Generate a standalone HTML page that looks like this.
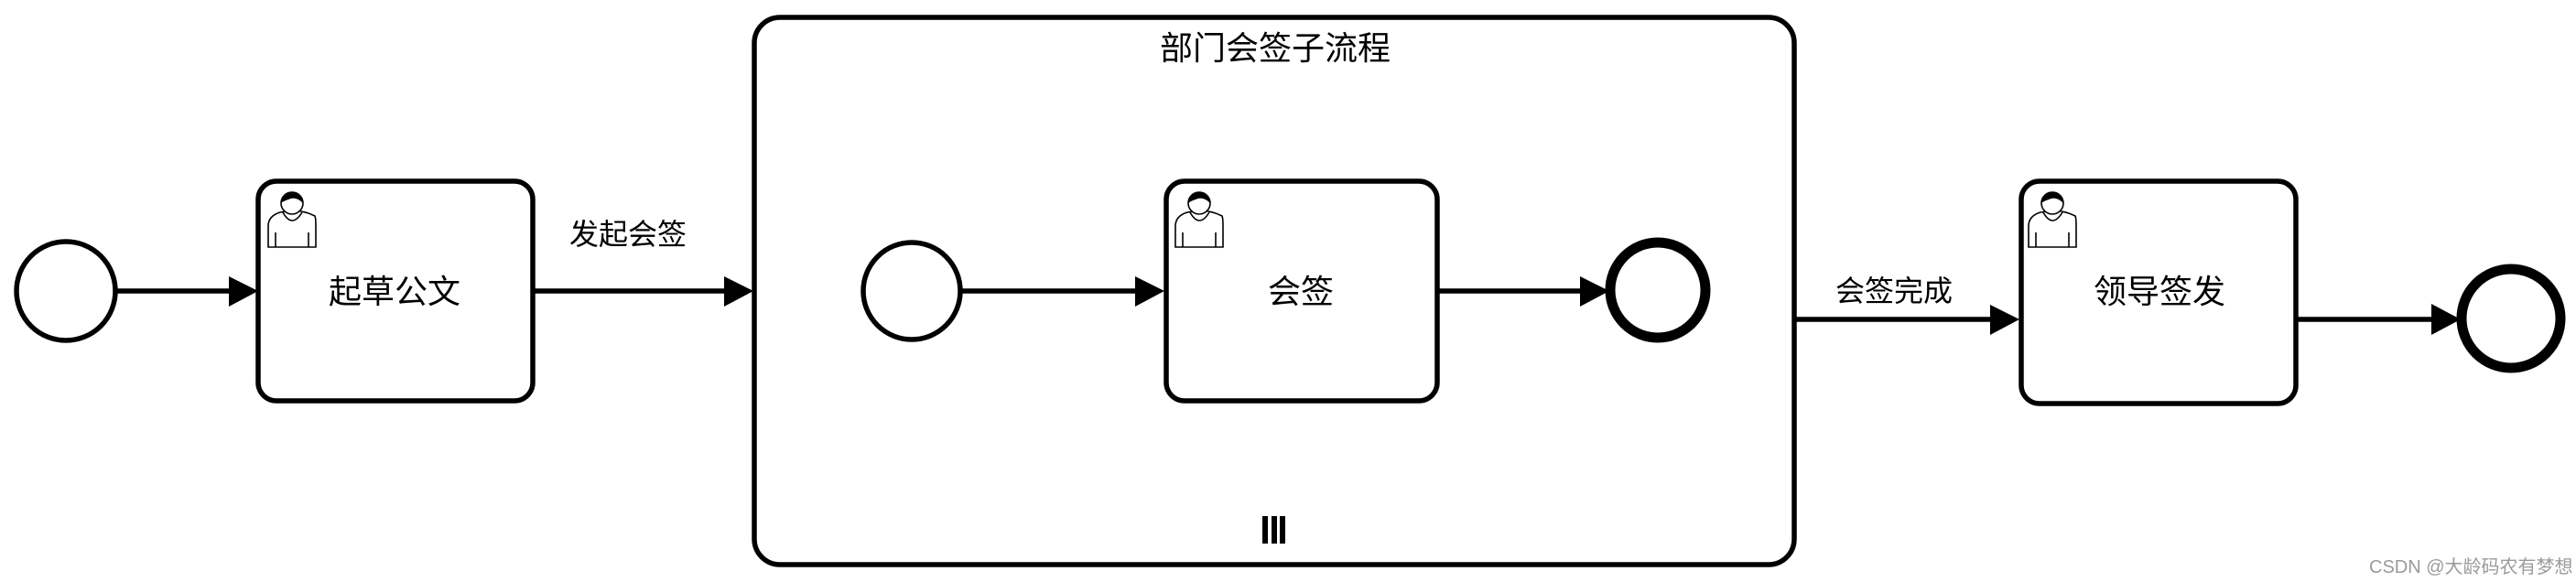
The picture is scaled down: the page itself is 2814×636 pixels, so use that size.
<!DOCTYPE html>
<html><head><meta charset="utf-8"><style>
html,body{margin:0;padding:0;background:#fff;width:2814px;height:636px;overflow:hidden}
svg{display:block}
text{font-family:"Liberation Sans","Noto Sans CJK SC",sans-serif;fill:#000}
</style></head><body>
<svg width="2814" height="636" viewBox="0 0 2814 636">
<defs>
<g id="user">
 <path d="M0,60 L0,37 Q0,26 13,22 Q26,20 26,20 Q39,20 51,26 Q52,28 52,37 L52,60 Z" fill="#fff" stroke="#000" stroke-width="1.6"/>
 <path d="M16,22 Q26,40 37,22" fill="none" stroke="#000" stroke-width="1.6"/>
 <circle cx="26" cy="12" r="12" fill="#fff" stroke="#000" stroke-width="1.6"/>
 <path d="M14,12 A12,12 0 0 1 38,12 Q30,4 22,8 Q16,10 14,12 Z" fill="#000"/>
 <line x1="8" y1="44" x2="8" y2="60" stroke="#000" stroke-width="1.6"/>
 <line x1="44" y1="44" x2="44" y2="60" stroke="#000" stroke-width="1.6"/>
</g>
</defs>
<g fill="none" stroke="#000" stroke-width="5.5">
 <circle cx="72" cy="318" r="54"/>
 <rect x="282" y="198" width="300" height="240" rx="20"/>
 <rect x="824" y="19" width="1136" height="598" rx="28"/>
 <circle cx="996" cy="318" r="53"/>
 <rect x="1274" y="198" width="296" height="240" rx="20"/>
 <rect x="2208" y="198" width="300" height="243" rx="20"/>
 <line x1="126" y1="318" x2="255" y2="318"/>
 <line x1="582" y1="318" x2="795" y2="318"/>
 <line x1="1049" y1="318" x2="1245" y2="318"/>
 <line x1="1570" y1="318" x2="1730" y2="318"/>
 <line x1="1962" y1="349" x2="2180" y2="349"/>
 <line x1="2508" y1="349" x2="2660" y2="349"/>
</g>
<g fill="none" stroke="#000" stroke-width="11">
 <circle cx="1811" cy="317" r="52"/>
 <circle cx="2743" cy="348" r="54"/>
</g>
<g fill="#000">
 <polygon points="250,302 282,318 250,335"/>
 <polygon points="791,302 823,318 791,335"/>
 <polygon points="1240,302 1272,318 1240,335"/>
 <polygon points="1726,302 1758,318 1726,335"/>
 <polygon points="2174,333 2206,349 2174,366"/>
 <polygon points="2656,332 2688,349 2656,366"/>
 <rect x="1379" y="564" width="6" height="30"/>
 <rect x="1389" y="564" width="6" height="30"/>
 <rect x="1398" y="564" width="6" height="30"/>
</g>
<use href="#user" x="293" y="210"/>
<use href="#user" x="1284" y="210"/>
<use href="#user" x="2216" y="210"/>
<g font-size="36" text-anchor="middle">
 <text x="431" y="331">起草公文</text>
 <text x="1421" y="331">会签</text>
 <text x="2359" y="331">领导签发</text>
 <text x="1393" y="65">部门会签子流程</text>
</g>
<g font-size="32" text-anchor="middle">
 <text x="686" y="267">发起会签</text>
 <text x="2069" y="329">会签完成</text>
</g>
<text x="2588" y="626" font-size="20" style="fill:#9a9a9a">CSDN @大龄码农有梦想</text>
</svg>
</body></html>
